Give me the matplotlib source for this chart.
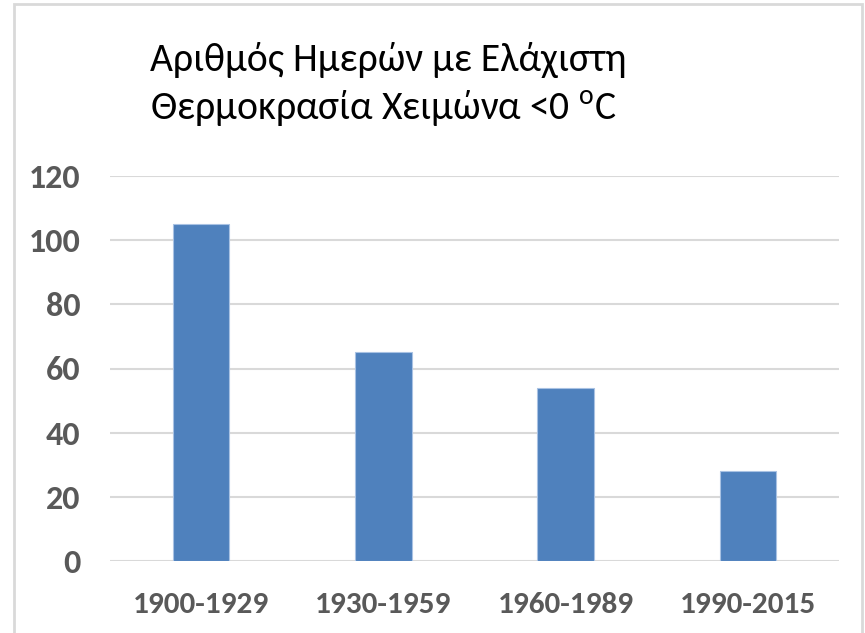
import matplotlib.pyplot as plt
from matplotlib.patches import Rectangle

periods = ['1900-1929', '1930-1959', '1960-1989', '1990-2015']
days = [105, 65, 54, 28]
yticks = [0, 20, 40, 60, 80, 100, 120]

plt.rcParams['font.family'] = ['Carlito', 'DejaVu Sans']
plt.rcParams['mathtext.fontset'] = 'custom'
plt.rcParams['mathtext.rm'] = 'Carlito'

W, H = 865, 633
fig = plt.figure(figsize=(W / 100, H / 100), dpi=100)
ax = fig.add_axes([110 / W, 1 - 561 / H, (839 - 110) / W, (561 - 176) / H])

ax.bar(range(len(periods)), days, width=0.31, color='#4F81BD',
       edgecolor='#A9C2E3', linewidth=0.8, zorder=3)
ax.set_xlim(-0.5, len(periods) - 0.5)
ax.set_ylim(0, 120)
ax.set_yticks(yticks)
ax.set_xticks(range(len(periods)))
ax.set_xticklabels(periods)
ax.grid(axis='y', color='#D9D9D9', linewidth=1.5, zorder=0)
ax.set_axisbelow(True)
for s in ax.spines.values():
    s.set_visible(False)
ax.tick_params(length=0)
ax.tick_params(axis='y', pad=21, labelsize=24.5)
ax.tick_params(axis='x', pad=22, labelsize=22.5)
for lbl in ax.get_xticklabels() + ax.get_yticklabels():
    lbl.set_fontweight('bold')
    lbl.set_color('#595959')

# title: two lines, small raised "o" before C
fig.text(150 / W, 1 - 42 / H, 'Αριθμός Ημερών με Ελάχιστη',
         ha='left', va='top', fontsize=28.5, color='black')
fig.text(150 / W, 1 - 89 / H, 'Θερμοκρασία Χειμώνα <0 $^{\\mathrm{o}}$C',
         ha='left', va='top', fontsize=28.5, color='black')

# chart frame
fig.patches.append(Rectangle((14 / W, -0.05), (862 - 14) / W, 1 - 4 / H + 0.05,
                             transform=fig.transFigure, fill=False,
                             edgecolor='#D9D9D9', linewidth=2))

fig.savefig('out.png', dpi=100)
